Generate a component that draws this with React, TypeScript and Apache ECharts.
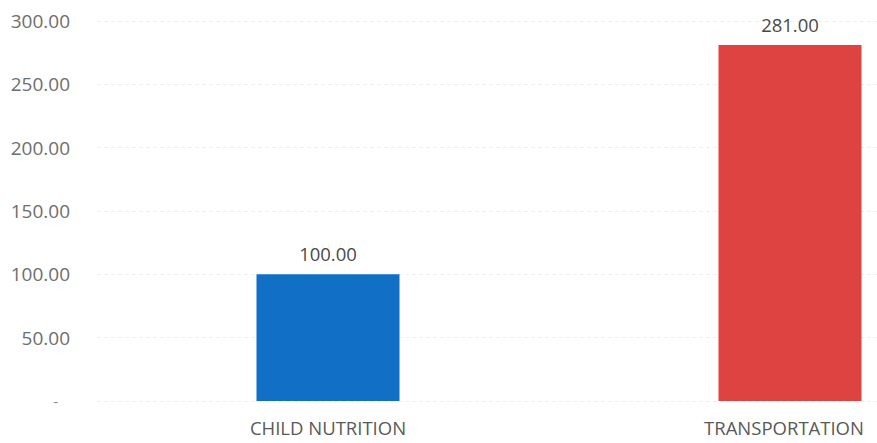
import React, { useEffect, useRef } from "react";
import * as echarts from "echarts";

const categories = ["CHILD NUTRITION", "TRANSPORTATION"];
const values = [100, 281];
const barColors = ["#1170C6", "#DE4341"];
const yTicks = [0, 50, 100, 150, 200, 250, 300];

export default function App() {
  const ref = useRef<HTMLDivElement>(null);
  useEffect(() => {
    document.body.style.margin = "0";
    const chart = echarts.init(ref.current!, null, { renderer: "svg" });
    chart.setOption({
      animation: false,
      backgroundColor: "#ffffff",
      grid: { left: 97, right: 0, top: 21, bottom: 42, containLabel: false },
      xAxis: {
        type: "category",
        data: categories,
        axisLine: { show: false },
        axisTick: { show: false },
        axisLabel: {
          color: "#595959",
          fontFamily: "Open Sans",
          fontSize: 18.5,
          margin: 17,
          formatter: (v: string, i: number) => (i === 1 ? `{t|${v}}` : v),
          rich: {
            t: { padding: [0, 12, 0, 0], color: "#595959", fontFamily: "Open Sans", fontSize: 18.5 },
          },
        },
      },
      yAxis: {
        type: "value",
        min: yTicks[0],
        max: yTicks[yTicks.length - 1],
        interval: 50,
        axisLine: { show: false },
        axisTick: { show: false },
        splitLine: { lineStyle: { color: "#efefef", type: [4, 3], width: 1 } },
        axisLabel: {
          margin: 27,
          color: "#6e6e6e",
          fontFamily: "Open Sans",
          fontSize: 19,
          formatter: (v: number) => (v === 0 ? "{d|-}" : v.toFixed(2)),
          rich: { d: { padding: [0, 12, 0, 0], color: "#8a8a8a", fontSize: 15 } },
        },
      },
      series: [
        {
          type: "bar",
          barWidth: 143,
          data: values.map((v, i) => ({ value: v, itemStyle: { color: barColors[i] } })),
          label: {
            show: true,
            position: "top",
            distance: 11,
            color: "#4a4a4a",
            fontFamily: "Open Sans",
            fontSize: 18.5,
            formatter: (p: any) => Number(p.value).toFixed(2),
          },
        },
      ],
    });
    return () => chart.dispose();
  }, []);
  return (
    <div style={{ width: 877, height: 443, overflow: "hidden", position: "relative" }}>
      <div ref={ref} style={{ width: 1021, height: 443 }} />
    </div>
  );
}
